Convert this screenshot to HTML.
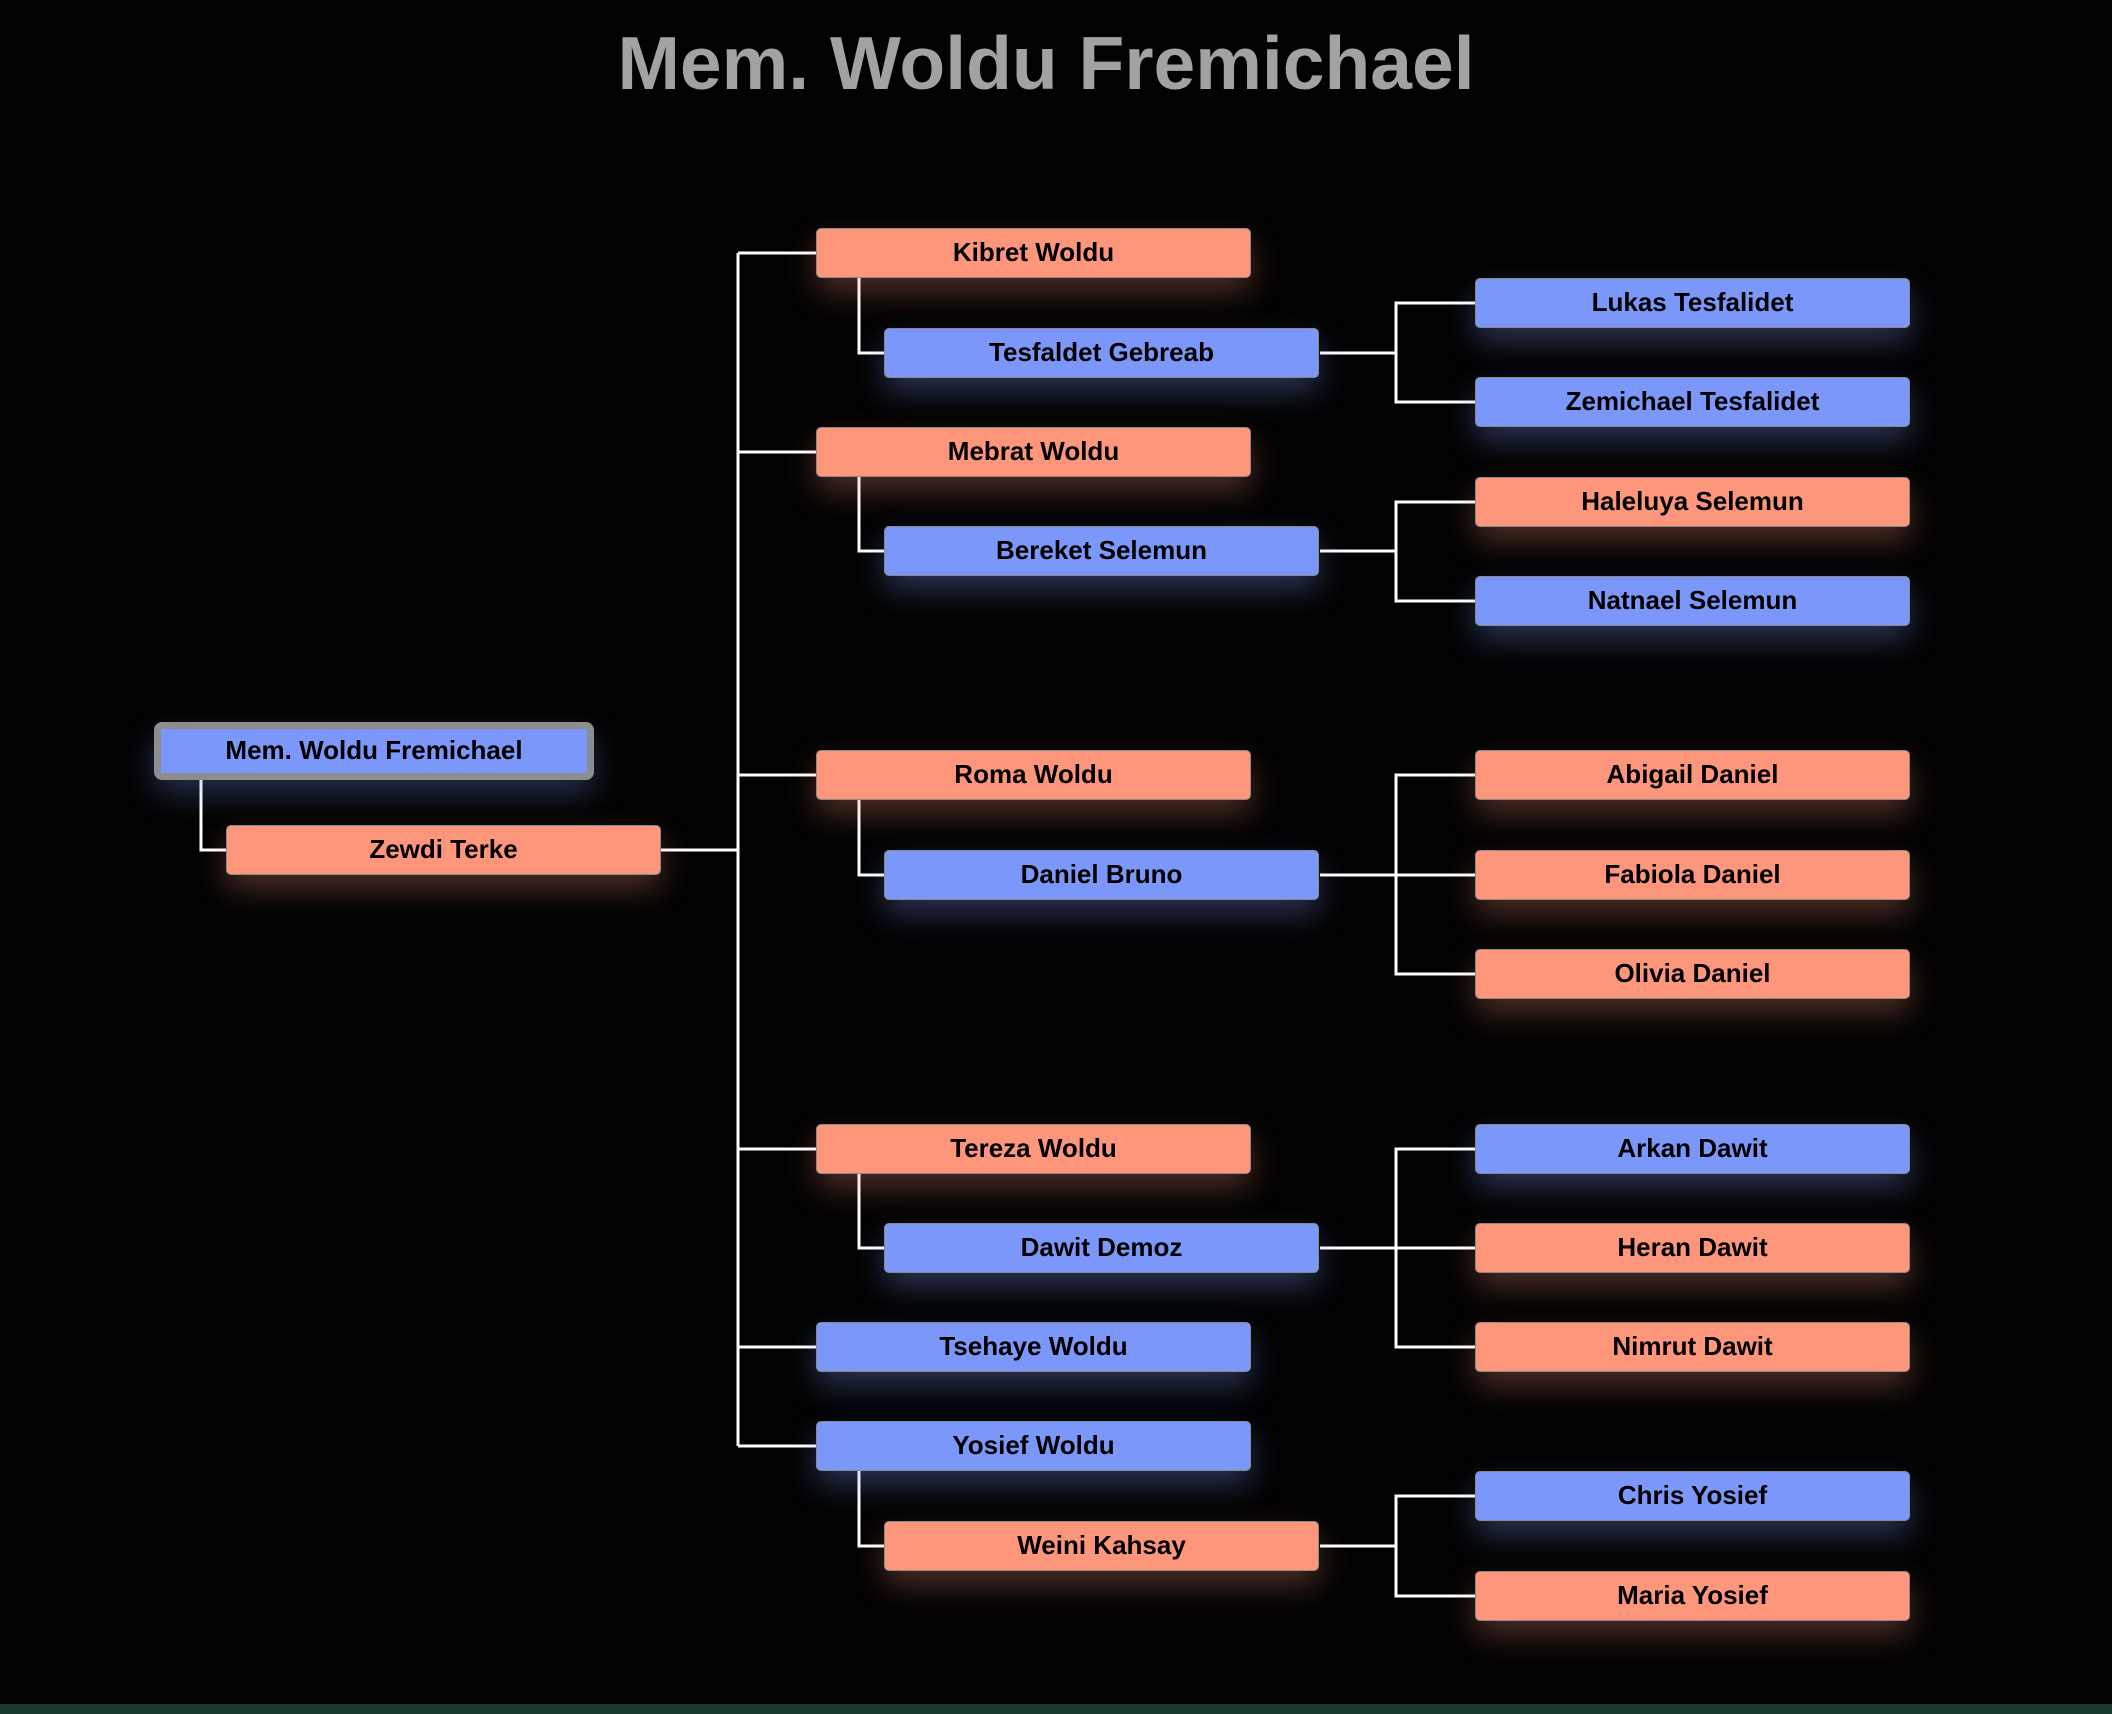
<!DOCTYPE html>
<html><head><meta charset="utf-8"><style>
html,body{margin:0;padding:0;background:#020202;}
body{width:2112px;height:1714px;position:relative;overflow:hidden;font-family:"Liberation Sans",Arial,sans-serif;}
.t{position:absolute;left:0;width:2112px;text-align:center;top:20px;font-size:75px;font-weight:bold;color:#a2a2a2;line-height:86px;margin-left:-10px;}
.b{position:absolute;height:48px;width:433px;border:1px solid #8a8a8a;border-radius:5px;font-weight:bold;font-size:26px;line-height:47px;text-align:center;color:#000;box-sizing:content-box;}
.m{background:#7c97fa;box-shadow:0 14px 32px rgba(124,151,250,0.33);}
.f{background:#fe967c;box-shadow:0 14px 32px rgba(254,150,124,0.3);}
.bar{position:absolute;left:0;top:1704px;width:2112px;height:10px;background:#1b3a30;}
svg{position:absolute;left:0;top:0;}
</style></head><body>
<div class="t">Mem. Woldu Fremichael</div>
<svg width="2112" height="1714">
<g stroke="#fff" stroke-width="3" fill="none">
<polyline points="201,780 201,850 226,850"/>
<line x1="660" y1="850" x2="738" y2="850"/>
<line x1="738" y1="253" x2="738" y2="1446"/>
<line x1="738" y1="253" x2="816" y2="253"/>
<line x1="738" y1="452" x2="816" y2="452"/>
<line x1="738" y1="775" x2="816" y2="775"/>
<line x1="738" y1="1149" x2="816" y2="1149"/>
<line x1="738" y1="1347" x2="816" y2="1347"/>
<line x1="738" y1="1446" x2="816" y2="1446"/>
<polyline points="859,278 859,353 884,353"/>
<polyline points="859,477 859,551 884,551"/>
<polyline points="859,800 859,875 884,875"/>
<polyline points="859,1174 859,1248 884,1248"/>
<polyline points="859,1471 859,1546 884,1546"/>
<line x1="1320" y1="353" x2="1396" y2="353"/>
<polyline points="1475,303 1396,303 1396,402 1475,402"/>
<line x1="1320" y1="551" x2="1396" y2="551"/>
<polyline points="1475,502 1396,502 1396,601 1475,601"/>
<line x1="1320" y1="875" x2="1475" y2="875"/>
<polyline points="1475,775 1396,775 1396,974 1475,974"/>
<line x1="1320" y1="1248" x2="1475" y2="1248"/>
<polyline points="1475,1149 1396,1149 1396,1347 1475,1347"/>
<line x1="1320" y1="1546" x2="1396" y2="1546"/>
<polyline points="1475,1496 1396,1496 1396,1596 1475,1596"/>
</g></svg>
<div style="position:absolute;left:154px;top:722px;width:426px;height:44px;border:7px solid #8d8d8d;border-radius:8px;background:#7c97fa;box-shadow:0 14px 32px rgba(124,151,250,0.3);font-weight:bold;font-size:26px;line-height:43px;text-align:center;color:#000;">Mem. Woldu Fremichael</div>
<div class="b f" style="left:226px;top:825px;">Zewdi Terke</div>

<div class="b f" style="left:816px;top:228px;">Kibret Woldu</div>
<div class="b m" style="left:884px;top:328px;">Tesfaldet Gebreab</div>
<div class="b f" style="left:816px;top:427px;">Mebrat Woldu</div>
<div class="b m" style="left:884px;top:526px;">Bereket Selemun</div>
<div class="b f" style="left:816px;top:750px;">Roma Woldu</div>
<div class="b m" style="left:884px;top:850px;">Daniel Bruno</div>
<div class="b f" style="left:816px;top:1124px;">Tereza Woldu</div>
<div class="b m" style="left:884px;top:1223px;">Dawit Demoz</div>
<div class="b m" style="left:816px;top:1322px;">Tsehaye Woldu</div>
<div class="b m" style="left:816px;top:1421px;">Yosief Woldu</div>
<div class="b f" style="left:884px;top:1521px;">Weini Kahsay</div>

<div class="b m" style="left:1475px;top:278px;">Lukas Tesfalidet</div>
<div class="b m" style="left:1475px;top:377px;">Zemichael Tesfalidet</div>
<div class="b f" style="left:1475px;top:477px;">Haleluya Selemun</div>
<div class="b m" style="left:1475px;top:576px;">Natnael Selemun</div>
<div class="b f" style="left:1475px;top:750px;">Abigail Daniel</div>
<div class="b f" style="left:1475px;top:850px;">Fabiola Daniel</div>
<div class="b f" style="left:1475px;top:949px;">Olivia Daniel</div>
<div class="b m" style="left:1475px;top:1124px;">Arkan Dawit</div>
<div class="b f" style="left:1475px;top:1223px;">Heran Dawit</div>
<div class="b f" style="left:1475px;top:1322px;">Nimrut Dawit</div>
<div class="b m" style="left:1475px;top:1471px;">Chris Yosief</div>
<div class="b f" style="left:1475px;top:1571px;">Maria Yosief</div>
<div class="bar"></div>
</body></html>
